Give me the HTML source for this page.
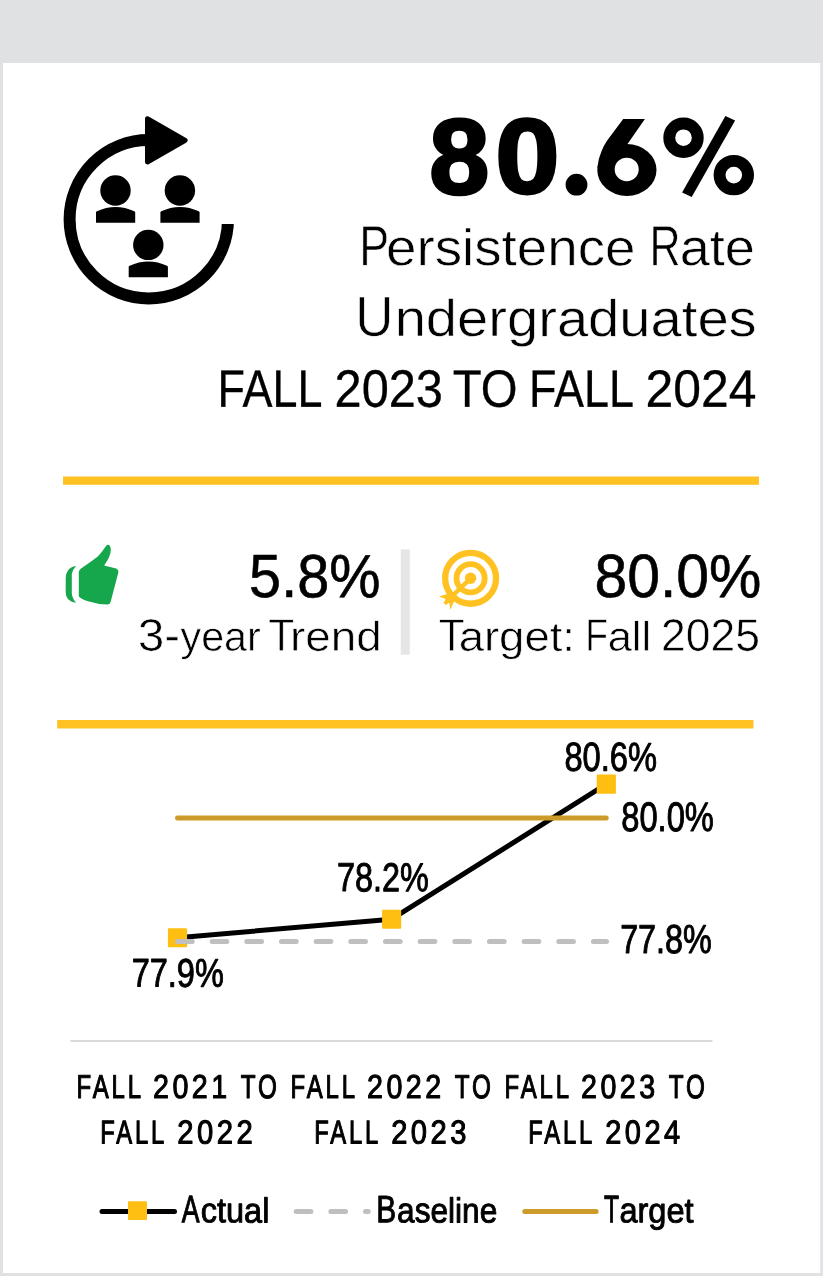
<!DOCTYPE html>
<html><head><meta charset="utf-8"><title>Persistence Rate</title>
<style>
html,body{margin:0;padding:0;background:#fff;}
body{width:824px;height:1280px;overflow:hidden;font-family:"Liberation Sans",sans-serif;}
svg{display:block;position:absolute;left:0;top:0;will-change:transform;}
text{font-family:"Liberation Sans",sans-serif;fill:#000;}
</style></head>
<body>
<svg width="824" height="1280" viewBox="0 0 824 1280">
<!-- frame -->
<rect x="0" y="0" width="823" height="1276" fill="#e0e1e2"/>
<rect x="3" y="63" width="817.3" height="1210" fill="#fff"/>

<!-- people / cycle icon -->
<defs><clipPath id="arcclip"><path d="M0 60 H146 V224 H300 V400 H0 Z"/></clipPath></defs>
<g fill="#000">
<circle cx="148.8" cy="219.25" r="79.2" fill="none" stroke="#000" stroke-width="12" clip-path="url(#arcclip)"/>
<path d="M147.4 118.7 L147.4 162.1 L185.3 140.3 Z" stroke="#000" stroke-width="4.8" stroke-linejoin="round"/>
<circle cx="115.5" cy="190.5" r="15.2"/>
<circle cx="179.9" cy="190.5" r="15.2"/>
<circle cx="148.3" cy="244.9" r="15.2"/>
<path d="M96.0 222.8 L96.0 212.6 Q96.0 211.6 96.9 211.2 Q106.1 206.9 115.6 206.9 Q125.1 206.9 134.3 211.2 Q135.2 211.6 135.2 212.6 L135.2 222.8 Z"/>
<path d="M160.4 222.8 L160.4 212.6 Q160.4 211.6 161.3 211.2 Q170.5 206.9 180.0 206.9 Q189.5 206.9 198.7 211.2 Q199.6 211.6 199.6 212.6 L199.6 222.8 Z"/>
<path d="M128.7 277.3 L128.7 267.1 Q128.7 266.1 129.6 265.7 Q138.8 261.4 148.3 261.4 Q157.8 261.4 167.0 265.7 Q167.9 266.1 167.9 267.1 L167.9 277.3 Z"/>
</g>

<!-- yellow rules -->
<rect x="63" y="476.5" width="696" height="8.3" fill="#FFC222"/>
<rect x="57.2" y="720" width="696.3" height="8.5" fill="#FFC222"/>

<!-- thumbs up -->
<g fill="#16A64C">
<path d="M108.2 544.8 Q110.6 545.6 110.8 549.6 Q111 556 104.1 565.6 L115.1 568.2 Q118.6 569 118.4 572.3 L110.6 602 Q109.8 604.8 107 604.6 Q98 604.4 90 601.8 Q82 599.6 78.8 596.4 L78.8 571.4 Q79.4 569.4 81.4 568.2 Q90 562.4 97.8 556.4 Q102 552 106 545.9 Q107 544.6 108.2 544.8 Z"/>
<path d="M76.1 566.1 Q70.5 567 68 570.5 Q65.7 573.5 65.7 578 L65.7 592 Q65.7 596.5 68 599 Q70.5 602 76.1 602.8 Q72.3 598.5 71.8 593.2 L71.8 574.1 Q72.3 570 76.1 566.1 Z"/>
</g>

<!-- divider -->
<rect x="400.7" y="549.4" width="9.1" height="105.3" fill="#e6e6e6"/>

<!-- target icon -->
<g fill="none" stroke="#FFC222">
<circle cx="470.6" cy="578.3" r="25.45" stroke-width="6.3"/>
<circle cx="470.6" cy="578.3" r="14.1" stroke-width="5.8"/>
<circle cx="470.6" cy="578.3" r="5.7" fill="#FFC222" stroke="none"/>
<path d="M470.6 578.3 L446.5 601.5" stroke-width="4.4"/>
<path d="M453.5 592.2 L438.9 596.6 L446 599.3 L443.4 602.4 L445.8 605 L449.2 602.4 L450.4 609.8 L454.6 600 Z" fill="#FFC222" stroke="none"/>
</g>

<!-- chart -->
<path d="M177.5 937.7 L391.6 919.2 L606.3 784.1" stroke="#000" stroke-width="5" fill="none" stroke-linejoin="round"/>
<g fill="#FFBE12">
<rect x="167.9" y="928.2" width="19.2" height="19.1" rx="0.8"/>
<rect x="382.1" y="909.7" width="19.1" height="19" rx="0.8"/>
<rect x="596.7" y="774.6" width="19.2" height="19.1" rx="0.8"/>
</g>
<path d="M177.5 941.5 L606.5 941.5" stroke="#BFBFBF" stroke-width="5" stroke-linecap="round" stroke-dasharray="14.7 19.96" fill="none"/>
<path d="M177.5 817.9 L606.2 817.9" stroke="#CD9B29" stroke-width="5" stroke-linecap="round" fill="none"/>
<rect x="70.5" y="1040" width="641.9" height="2" fill="#D8D9D9"/>

<!-- legend -->
<path d="M102 1211.4 L174.5 1211.4" stroke="#000" stroke-width="5" stroke-linecap="round" fill="none"/>
<rect x="128" y="1201.3" width="19" height="18.8" rx="0.8" fill="#FFBE12"/>
<path d="M296.2 1211.5 L368.2 1211.5" stroke="#BFBFBF" stroke-width="5" stroke-linecap="round" stroke-dasharray="14.7 19.96" fill="none"/>
<path d="M524.8 1211.5 L596.1 1211.5" stroke="#CD9B29" stroke-width="5" stroke-linecap="round" fill="none"/>

<g>
<ellipse cx="626.9" cy="170" rx="29.6" ry="25.9" fill="#000"/>
<path d="M623.2 119 L644.9 119 L627 144.7 L613 160 L597.4 168 Q598 159 601.6 151 Q603.8 145.5 606.8 141 Z" fill="#000"/>
<ellipse cx="626.7" cy="169.4" rx="12" ry="11.75" fill="#fff"/>
<circle cx="576.5" cy="184.7" r="10.9" fill="#000"/>
<circle cx="683.5" cy="137.7" r="14.25" fill="none" stroke="#000" stroke-width="11.9"/>
<circle cx="733.8" cy="175.1" r="14.25" fill="none" stroke="#000" stroke-width="11.9"/>
<path d="M725.4 115.9 L735.1 120.4 L691.7 197.1 L682.1 192.5 Z" fill="#000"/>
</g>
<text transform="translate(429.15 193.86) rotate(0.05) scale(1.0096 1.0018)" font-size="106.92" font-weight="700" stroke="#000" stroke-width="3.0" stroke-linejoin="round" vector-effect="non-scaling-stroke">8</text><text transform="translate(495.27 192.92) rotate(0.05) scale(1.0877 1.0029)" font-size="106.21" font-weight="700" stroke="#000" stroke-width="3.0" stroke-linejoin="round" vector-effect="non-scaling-stroke">0</text><text x="562" y="195" font-size="107" font-weight="700" style="fill:none;stroke:none">.6%</text>
<text transform="translate(359.35 265.20) rotate(0.05) scale(0.7884 1.0000)" font-size="56.69" stroke="#fff" stroke-width="0.6" vector-effect="non-scaling-stroke">P</text><text transform="translate(386.11 265.20) rotate(0.05) scale(1.0606 1.0000)" font-size="51.59" stroke="#fff" stroke-width="0.6" vector-effect="non-scaling-stroke">ersistence</text> <text transform="translate(649.40 265.20) rotate(0.05) scale(0.7576 1.0000)" font-size="56.69" stroke="#fff" stroke-width="0.6" vector-effect="non-scaling-stroke">R</text><text transform="translate(679.64 265.20) rotate(0.05) scale(1.0496 1.0000)" font-size="51.59" stroke="#fff" stroke-width="0.6" vector-effect="non-scaling-stroke">ate</text>
<text transform="translate(355.19 336.00) rotate(0.05) scale(0.9292 1.0000)" font-size="56.83" stroke="#fff" stroke-width="0.6" vector-effect="non-scaling-stroke">U</text><text transform="translate(394.63 336.00) rotate(0.05) scale(1.0856 1.0000)" font-size="51.72" stroke="#fff" stroke-width="0.6" vector-effect="non-scaling-stroke">ndergraduates</text>
<text transform="translate(217.61 406.65) rotate(0.05) scale(0.8534 1.0000)" font-size="52.62" stroke="#000" stroke-width="0.3" stroke-linejoin="round" vector-effect="non-scaling-stroke">FALL</text> <text transform="translate(334.55 406.65) rotate(0.05) scale(0.9253 1.0000)" font-size="52.62" stroke="#000" stroke-width="0.3" stroke-linejoin="round" vector-effect="non-scaling-stroke">2023</text> <text transform="translate(452.73 406.65) rotate(0.05) scale(0.8985 1.0000)" font-size="52.62" stroke="#000" stroke-width="0.3" stroke-linejoin="round" vector-effect="non-scaling-stroke">TO</text> <text transform="translate(529.02 406.65) rotate(0.05) scale(0.8534 1.0000)" font-size="52.62" stroke="#000" stroke-width="0.3" stroke-linejoin="round" vector-effect="non-scaling-stroke">FALL</text> <text transform="translate(645.60 406.65) rotate(0.05) scale(0.9474 1.0000)" font-size="52.62" stroke="#000" stroke-width="0.3" stroke-linejoin="round" vector-effect="non-scaling-stroke">2024</text>
<text transform="translate(249.09 597.09) rotate(0.05) scale(0.9467 1.0022)" font-size="60.88" stroke="#000" stroke-width="0.6" stroke-linejoin="round" vector-effect="non-scaling-stroke">5.8%</text>
<text transform="translate(138.11 650.80) rotate(0.05) scale(1.0345 1.0000)" font-size="45.64" stroke="#fff" stroke-width="0.6" vector-effect="non-scaling-stroke">3-</text><text transform="translate(180.55 650.80) rotate(0.05) scale(0.9918 1.0000)" font-size="41.53" stroke="#fff" stroke-width="0.6" vector-effect="non-scaling-stroke">year</text> <text transform="translate(268.28 650.80) rotate(0.05) scale(0.9311 1.0000)" font-size="45.64" stroke="#fff" stroke-width="0.6" vector-effect="non-scaling-stroke">T</text><text transform="translate(290.08 650.80) rotate(0.05) scale(1.1037 1.0000)" font-size="41.53" stroke="#fff" stroke-width="0.6" vector-effect="non-scaling-stroke">rend</text>
<text transform="translate(594.52 597.04) rotate(0.05) scale(0.9659 1.0021)" font-size="60.88" stroke="#000" stroke-width="0.6" stroke-linejoin="round" vector-effect="non-scaling-stroke">80.0%</text>
<text transform="translate(438.69 650.80) rotate(0.05) scale(0.9281 1.0000)" font-size="45.64" stroke="#fff" stroke-width="0.6" vector-effect="non-scaling-stroke">T</text><text transform="translate(458.65 650.80) rotate(0.05) scale(1.0957 1.0000)" font-size="41.53" stroke="#fff" stroke-width="0.6" vector-effect="non-scaling-stroke">arget:</text> <text transform="translate(585.34 650.80) rotate(0.05) scale(0.8164 1.0000)" font-size="45.64" stroke="#fff" stroke-width="0.6" vector-effect="non-scaling-stroke">F</text><text transform="translate(607.67 650.80) rotate(0.05) scale(1.0460 1.0000)" font-size="41.53" stroke="#fff" stroke-width="0.6" vector-effect="non-scaling-stroke">all</text> <text transform="translate(661.10 650.80) rotate(0.05) scale(0.9737 1.0000)" font-size="45.64" stroke="#fff" stroke-width="0.6" vector-effect="non-scaling-stroke">2025</text>
<text transform="translate(564.43 770.82) rotate(0.05) scale(0.8027 0.9967)" font-size="40.68" stroke="#000" stroke-width="0.9" stroke-linejoin="round" vector-effect="non-scaling-stroke">80.6%</text>
<text transform="translate(621.23 831.00) rotate(0.05) scale(0.7955 0.9983)" font-size="41.10" stroke="#000" stroke-width="0.9" stroke-linejoin="round" vector-effect="non-scaling-stroke">80.0%</text>
<text transform="translate(337.12 891.12) rotate(0.05) scale(0.7983 0.9946)" font-size="40.54" stroke="#000" stroke-width="0.9" stroke-linejoin="round" vector-effect="non-scaling-stroke">78.2%</text>
<text transform="translate(131.69 986.60) rotate(0.05) scale(0.8072 0.9951)" font-size="40.25" stroke="#000" stroke-width="0.9" stroke-linejoin="round" vector-effect="non-scaling-stroke">77.9%</text>
<text transform="translate(620.13 952.88) rotate(0.05) scale(0.7980 0.9982)" font-size="40.54" stroke="#000" stroke-width="0.9" stroke-linejoin="round" vector-effect="non-scaling-stroke">77.8%</text>
<text transform="translate(76.46 1097.90) rotate(0.05) scale(0.7234 1.0000)" font-size="33.14" letter-spacing="4" stroke="#000" stroke-width="1.0" stroke-linejoin="round" vector-effect="non-scaling-stroke">FALL</text> <text transform="translate(153.06 1097.90) rotate(0.05) scale(0.8641 1.0000)" font-size="33.14" letter-spacing="4" stroke="#000" stroke-width="1.0" stroke-linejoin="round" vector-effect="non-scaling-stroke">2021</text> <text transform="translate(240.67 1097.90) rotate(0.05) scale(0.7321 1.0000)" font-size="33.14" letter-spacing="4" stroke="#000" stroke-width="1.0" stroke-linejoin="round" vector-effect="non-scaling-stroke">TO</text> <text transform="translate(100.13 1143.50) rotate(0.05) scale(0.7187 1.0000)" font-size="33.14" letter-spacing="4" stroke="#000" stroke-width="1.0" stroke-linejoin="round" vector-effect="non-scaling-stroke">FALL</text> <text transform="translate(177.14 1143.50) rotate(0.05) scale(0.8814 1.0000)" font-size="33.14" letter-spacing="4" stroke="#000" stroke-width="1.0" stroke-linejoin="round" vector-effect="non-scaling-stroke">2022</text>
<text transform="translate(290.46 1097.90) rotate(0.05) scale(0.7234 1.0000)" font-size="33.14" letter-spacing="4" stroke="#000" stroke-width="1.0" stroke-linejoin="round" vector-effect="non-scaling-stroke">FALL</text> <text transform="translate(367.06 1097.90) rotate(0.05) scale(0.8650 1.0000)" font-size="33.14" letter-spacing="4" stroke="#000" stroke-width="1.0" stroke-linejoin="round" vector-effect="non-scaling-stroke">2022</text> <text transform="translate(454.67 1097.90) rotate(0.05) scale(0.7321 1.0000)" font-size="33.14" letter-spacing="4" stroke="#000" stroke-width="1.0" stroke-linejoin="round" vector-effect="non-scaling-stroke">TO</text> <text transform="translate(314.13 1143.50) rotate(0.05) scale(0.7187 1.0000)" font-size="33.14" letter-spacing="4" stroke="#000" stroke-width="1.0" stroke-linejoin="round" vector-effect="non-scaling-stroke">FALL</text> <text transform="translate(391.14 1143.50) rotate(0.05) scale(0.8793 1.0000)" font-size="33.14" letter-spacing="4" stroke="#000" stroke-width="1.0" stroke-linejoin="round" vector-effect="non-scaling-stroke">2023</text>
<text transform="translate(504.46 1097.90) rotate(0.05) scale(0.7234 1.0000)" font-size="33.14" letter-spacing="4" stroke="#000" stroke-width="1.0" stroke-linejoin="round" vector-effect="non-scaling-stroke">FALL</text> <text transform="translate(581.08 1097.90) rotate(0.05) scale(0.8631 1.0000)" font-size="33.14" letter-spacing="4" stroke="#000" stroke-width="1.0" stroke-linejoin="round" vector-effect="non-scaling-stroke">2023</text> <text transform="translate(668.67 1097.90) rotate(0.05) scale(0.7321 1.0000)" font-size="33.14" letter-spacing="4" stroke="#000" stroke-width="1.0" stroke-linejoin="round" vector-effect="non-scaling-stroke">TO</text> <text transform="translate(528.13 1143.50) rotate(0.05) scale(0.7187 1.0000)" font-size="33.14" letter-spacing="4" stroke="#000" stroke-width="1.0" stroke-linejoin="round" vector-effect="non-scaling-stroke">FALL</text> <text transform="translate(605.18 1143.50) rotate(0.05) scale(0.8740 1.0000)" font-size="33.14" letter-spacing="4" stroke="#000" stroke-width="1.0" stroke-linejoin="round" vector-effect="non-scaling-stroke">2024</text>
<text transform="translate(181.81 1222.35) rotate(0.05) scale(0.6944 1.0000)" font-size="38.37" stroke="#000" stroke-width="0.9" stroke-linejoin="round" vector-effect="non-scaling-stroke">A</text><text transform="translate(200.81 1222.35) rotate(0.05) scale(0.9298 1.0000)" font-size="34.92" stroke="#000" stroke-width="0.9" stroke-linejoin="round" vector-effect="non-scaling-stroke">ctual</text> <text transform="translate(376.21 1222.35) rotate(0.05) scale(0.7790 1.0000)" font-size="38.37" stroke="#000" stroke-width="0.9" stroke-linejoin="round" vector-effect="non-scaling-stroke">B</text><text transform="translate(397.08 1222.35) rotate(0.05) scale(0.9058 1.0000)" font-size="34.92" stroke="#000" stroke-width="0.9" stroke-linejoin="round" vector-effect="non-scaling-stroke">aseline</text> <text transform="translate(604.12 1222.35) rotate(0.05) scale(0.6427 1.0000)" font-size="38.37" stroke="#000" stroke-width="0.9" stroke-linejoin="round" vector-effect="non-scaling-stroke">T</text><text transform="translate(619.39 1222.35) rotate(0.05) scale(0.9329 1.0000)" font-size="34.92" stroke="#000" stroke-width="0.9" stroke-linejoin="round" vector-effect="non-scaling-stroke">arget</text>

</svg>
</body></html>
